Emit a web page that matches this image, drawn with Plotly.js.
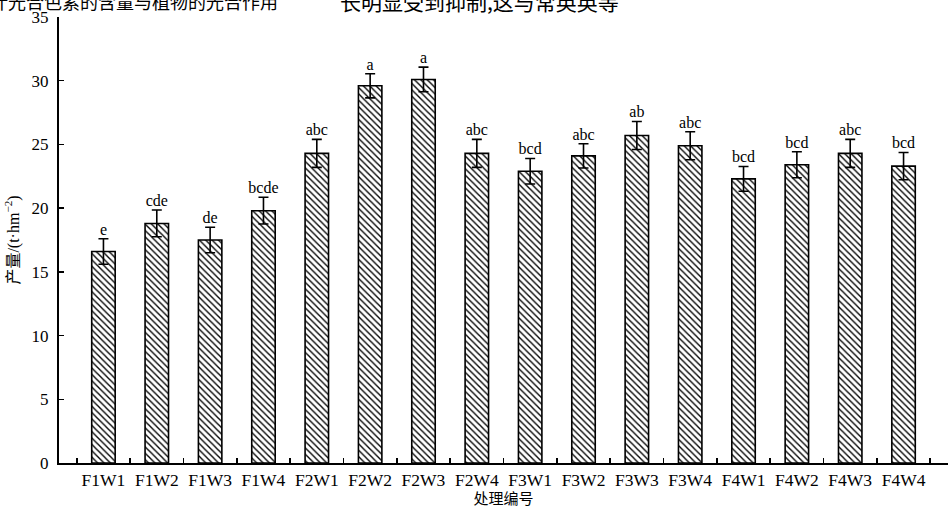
<!DOCTYPE html>
<html>
<head>
<meta charset="utf-8">
<script src="https://cdn.plot.ly/plotly-3.0.1.min.js"></script>
<style>html,body{margin:0;padding:0;background:#fff;}#chart{width:949px;height:508px;}</style>
</head>
<body>
<div id="chart"></div>
<script>
const categories = ["F1W1","F1W2","F1W3","F1W4","F2W1","F2W2","F2W3","F2W4","F3W1","F3W2","F3W3","F3W4","F4W1","F4W2","F4W3","F4W4"];
const yieldValues = [16.6, 18.8, 17.5, 19.8, 24.3, 29.6, 30.1, 24.3, 22.9, 24.1, 25.7, 24.9, 22.3, 23.4, 24.3, 23.3];
const errorValues = [1.0, 1.05, 1.0, 1.05, 1.1, 0.95, 0.97, 1.1, 1.0, 0.95, 1.1, 1.1, 0.97, 1.02, 1.1, 1.07];
const sigLetters = ["e","cde","de","bcde","abc","a","a","abc","bcd","abc","ab","abc","bcd","bcd","abc","bcd"];
const yTickVals = [0,5,10,15,20,25,30,35];
const topTextLeft = "叶光合色素的含量与植物的光合作用";
const topTextRight = "长明显受到抑制,这与常英英等";

const serif = "Liberation Serif, Times New Roman, serif";
const cjk = "Noto Sans CJK SC, Liberation Serif, serif";

const labelY = yieldValues.map((v, i) => v + errorValues[i]);

const traces = [
  {
    type: "bar",
    x: categories,
    y: yieldValues,
    error_y: {type: "data", array: errorValues, visible: true, color: "#000", thickness: 1.6, width: 5},
    marker: {
      color: "#fff",
      line: {color: "#000", width: 1.6},
      pattern: {shape: "\\", fgcolor: "#000", bgcolor: "#fff", size: 4.5, solidity: 0.3}
    },
    hoverinfo: "skip"
  },
  {
    type: "scatter",
    mode: "text",
    x: categories,
    y: labelY,
    text: sigLetters,
    textposition: "top center",
    textfont: {family: serif, size: 16, color: "#000"},
    cliponaxis: false,
    hoverinfo: "skip"
  }
];

const layout = {
  width: 949,
  height: 508,
  margin: {l: 59, r: 1, t: 17, b: 45},
  paper_bgcolor: "#fff",
  plot_bgcolor: "#fff",
  showlegend: false,
  bargap: 0.56,
  xaxis: {
    type: "category",
    tickson: "boundaries",
    tickangle: 0,
    ticks: "inside",
    ticklen: 5,
    tickwidth: 1.5,
    tickcolor: "#000",
    showline: true,
    linecolor: "#000",
    linewidth: 2,
    showgrid: false,
    zeroline: false,
    tickfont: {family: serif, size: 17.5, color: "#000"},
    title: {text: "处理编号", font: {family: cjk, size: 15, color: "#000"}, standoff: 0}
  },
  yaxis: {
    range: [0, 35],
    tickvals: yTickVals,
    ticks: "inside",
    ticklen: 5,
    tickwidth: 1.5,
    tickcolor: "#000",
    showline: true,
    linecolor: "#000",
    linewidth: 2,
    showgrid: false,
    zeroline: false,
    ticklabelstandoff: 5,
    tickfont: {family: serif, size: 17, color: "#000"},
    title: {text: "产量<span style='font-family:Liberation Serif'>/(t·hm<sup>−2</sup>)</span>", font: {family: cjk, size: 16, color: "#000"}, standoff: 8}
  },
  annotations: [
    {xref: "paper", yref: "paper", x: -0.08, y: 1.036, xanchor: "left", yanchor: "middle",
     text: topTextLeft, showarrow: false, font: {family: cjk, size: 18, color: "#000"}},
    {xref: "paper", yref: "paper", x: 0.314, y: 1.036, xanchor: "left", yanchor: "middle",
     text: topTextRight, showarrow: false, font: {family: cjk, size: 21, color: "#000"}}
  ]
};

Plotly.newPlot("chart", traces, layout, {displayModeBar: false, staticPlot: true});
</script>
</body>
</html>
